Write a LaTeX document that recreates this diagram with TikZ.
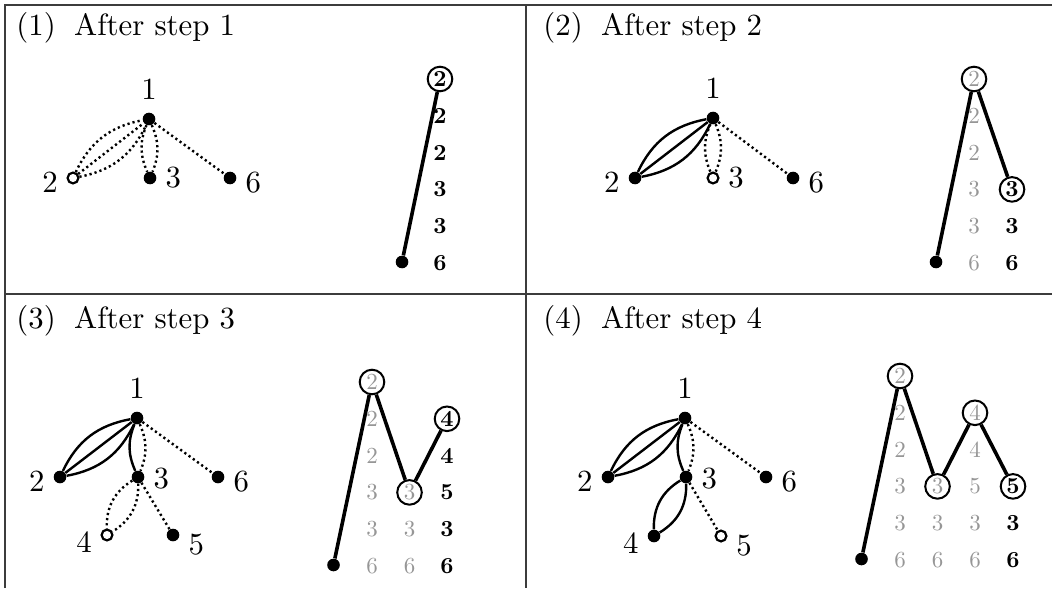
\documentclass[tikz,border=0pt]{standalone}
\usepackage{tikz}
\usepackage{xcolor}
\usetikzlibrary{positioning}
\definecolor{RuleGray}{RGB}{60,60,60}
\definecolor{FadedGray}{RGB}{150,150,150}
\font\TagFont=cmr10 at 15.4pt
\font\CellFont=cmr10 at 11.5pt
\font\CellBold=cmbx10 at 11.5pt
\tikzset{
  vtx/.style={circle, fill=black, inner sep=0pt, minimum size=6.3pt},
  hollow/.style={circle, draw=black, fill=white, line width=1.1pt, inner sep=0pt, minimum size=5.4pt},
  edge/.style={line width=1.2pt},
  dots/.style={line width=1.2pt, dash pattern=on 1.1pt off 1.5pt},
  tag/.style={inner sep=0pt, font=\TagFont},
  now/.style={inner sep=0pt, font=\CellBold},
  old/.style={inner sep=0pt, text=FadedGray, font=\CellFont},
  ring/.style={circle, draw=black, line width=1pt, minimum size=12.3pt, inner sep=0pt},
  walk/.style={line width=1.8pt},
  foot/.style={circle, fill=black, inner sep=0pt, minimum size=6.3pt},
  rule/.style={RuleGray, line width=0.6pt}
}
\begin{document}
\begin{tikzpicture}[x=0.5pt, y=-0.5pt]
  \useasboundingbox (0,0) rectangle (1052,588);
  \draw[rule] (5,588) -- (5,5) -- (1052,5);
  \draw[rule] (526,5) -- (526,588);
  \draw[rule] (5,294) -- (1052,294);

  % (1)
  \node[tag, anchor=base west] (h1) at (16,36) {(1)\hspace{0.6em}After step 1};
  \node[vtx] (a1) at (149,119) {};
  \node[hollow] (a2) at (73,178) {};
  \node[vtx] (a3) at (150,178) {};
  \node[vtx] (a6) at (230,178) {};
  \node[tag, above=6.2pt of a1] (a1l) {1};
  \node[tag, left=4.2pt of a2, yshift=-2.5pt] (a2l) {2};
  \node[tag, right=4.2pt of a3] (a3l) {3};
  \node[tag, right=4.2pt of a6, yshift=-2.5pt] (a6l) {6};
  \draw[dots] (a2) to[bend left=27] (a1) (a2) -- (a1) (a2) to[bend right=27] (a1);
  \draw[dots] (a1) to[bend right=23] (a3) (a1) to[bend left=23] (a3);
  \draw[dots] (a1) -- (a6);
  \node[ring, now] (as1) at (440,79) {2};
  \foreach \n [count=\r] in {2,2,3,3,6}
    \node[now] (as1-\r) at (440,{79+36.8*\r}) {\n};
  \node[foot] (af) at (402,262) {};
  \draw[walk] (af) -- (as1);

  % (2)
  \begin{scope}[shift={(526,0)}]
    \node[tag, anchor=base west] (h2) at (17,36) {(2)\hspace{0.6em}After step 2};
    \node[vtx] (b1) at (187,118) {};
    \node[vtx] (b2) at (109,178) {};
    \node[hollow] (b3) at (187,178) {};
    \node[vtx] (b6) at (267,178) {};
    \node[tag, above=6.2pt of b1] (b1l) {1};
    \node[tag, left=4.2pt of b2, yshift=-2.5pt] (b2l) {2};
    \node[tag, right=4.2pt of b3] (b3l) {3};
    \node[tag, right=4.2pt of b6, yshift=-2.5pt] (b6l) {6};
    \draw[edge] (b2) to[bend left=27] (b1) (b2) -- (b1) (b2) to[bend right=27] (b1);
    \draw[dots] (b1) to[bend right=23] (b3) (b1) to[bend left=23] (b3);
    \draw[dots] (b1) -- (b6);
    \node[ring, old] (bs1) at (448,79) {2};
    \foreach \n [count=\r] in {2,2,3,3,6}
      \node[old] (bs1-\r) at (448,{79+36.8*\r}) {\n};
    \node[ring, now] (bs2) at (486,{79+36.8*3}) {3};
    \foreach \n [count=\r from 4] in {3,6}
      \node[now] (bs2-\r) at (486,{79+36.8*\r}) {\n};
    \node[foot] (bf) at (410,262) {};
    \draw[walk] (bf) -- (bs1) -- (bs2);
  \end{scope}

  % (3)
  \begin{scope}[shift={(0,294)}]
    \node[tag, anchor=base west] (h3) at (16,34) {(3)\hspace{0.6em}After step 3};
    \node[vtx] (c1) at (137,124) {};
    \node[vtx] (c2) at (60,183) {};
    \node[vtx] (c3) at (138,183) {};
    \node[vtx] (c6) at (218,183) {};
    \node[hollow] (c4) at (107,241) {};
    \node[vtx] (c5) at (173,241) {};
    \node[tag, above=6.2pt of c1] (c1l) {1};
    \node[tag, left=4.2pt of c2, yshift=-2.5pt] (c2l) {2};
    \node[tag, right=4.2pt of c3, yshift=-1pt] (c3l) {3};
    \node[tag, right=4.2pt of c6, yshift=-2.5pt] (c6l) {6};
    \node[tag, left=4.2pt of c4, yshift=-4pt] (c4l) {4};
    \node[tag, right=4.2pt of c5, yshift=-5pt] (c5l) {5};
    \draw[edge] (c2) to[bend left=27] (c1) (c2) -- (c1) (c2) to[bend right=27] (c1);
    \draw[edge] (c1) to[bend right=23] (c3);
    \draw[dots] (c1) to[bend left=23] (c3);
    \draw[dots] (c1) -- (c6);
    \draw[dots] (c3) to[bend right=30] (c4) (c3) to[bend left=30] (c4);
    \draw[dots] (c3) -- (c5);
    \node[ring, old] (cs1) at (372,88) {2};
    \foreach \n [count=\r] in {2,2,3,3,6}
      \node[old] (cs1-\r) at (372,{88+36.8*\r}) {\n};
    \node[ring, old] (cs2) at (409.5,{88+36.8*3}) {3};
    \foreach \n [count=\r from 4] in {3,6}
      \node[old] (cs2-\r) at (409.5,{88+36.8*\r}) {\n};
    \node[ring, now] (cs3) at (447,{88+36.8}) {4};
    \foreach \n [count=\r from 2] in {4,5,3,6}
      \node[now] (cs3-\r) at (447,{88+36.8*\r}) {\n};
    \node[foot] (cf) at (333.5,271) {};
    \draw[walk] (cf) -- (cs1) -- (cs2) -- (cs3);
  \end{scope}

  % (4)
  \begin{scope}[shift={(526,294)}]
    \node[tag, anchor=base west] (h4) at (17,34) {(4)\hspace{0.6em}After step 4};
    \node[vtx] (d1) at (159,124) {};
    \node[vtx] (d2) at (82,183) {};
    \node[vtx] (d3) at (160,183) {};
    \node[vtx] (d6) at (240,183) {};
    \node[vtx] (d4) at (128,242) {};
    \node[hollow] (d5) at (195,242) {};
    \node[tag, above=6.2pt of d1] (d1l) {1};
    \node[tag, left=4.2pt of d2, yshift=-2.5pt] (d2l) {2};
    \node[tag, right=4.2pt of d3, yshift=-1pt] (d3l) {3};
    \node[tag, right=4.2pt of d6, yshift=-2.5pt] (d6l) {6};
    \node[tag, left=4.2pt of d4, yshift=-4pt] (d4l) {4};
    \node[tag, right=4.2pt of d5, yshift=-5pt] (d5l) {5};
    \draw[edge] (d2) to[bend left=27] (d1) (d2) -- (d1) (d2) to[bend right=27] (d1);
    \draw[edge] (d1) to[bend right=23] (d3);
    \draw[dots] (d1) to[bend left=23] (d3);
    \draw[dots] (d1) -- (d6);
    \draw[edge] (d3) to[bend right=30] (d4) (d3) to[bend left=30] (d4);
    \draw[dots] (d3) -- (d5);
    \node[ring, old] (ds1) at (374,82) {2};
    \foreach \n [count=\r] in {2,2,3,3,6}
      \node[old] (ds1-\r) at (374,{82+36.8*\r}) {\n};
    \node[ring, old] (ds2) at (411.5,{82+36.8*3}) {3};
    \foreach \n [count=\r from 4] in {3,6}
      \node[old] (ds2-\r) at (411.5,{82+36.8*\r}) {\n};
    \node[ring, old] (ds3) at (449,{82+36.8}) {4};
    \foreach \n [count=\r from 2] in {4,5,3,6}
      \node[old] (ds3-\r) at (449,{82+36.8*\r}) {\n};
    \node[ring, now] (ds4) at (487,{82+36.8*3}) {5};
    \foreach \n [count=\r from 4] in {3,6}
      \node[now] (ds4-\r) at (487,{82+36.8*\r}) {\n};
    \node[foot] (df) at (335.5,265) {};
    \draw[walk] (df) -- (ds1) -- (ds2) -- (ds3) -- (ds4);
  \end{scope}
\end{tikzpicture}
\end{document}
